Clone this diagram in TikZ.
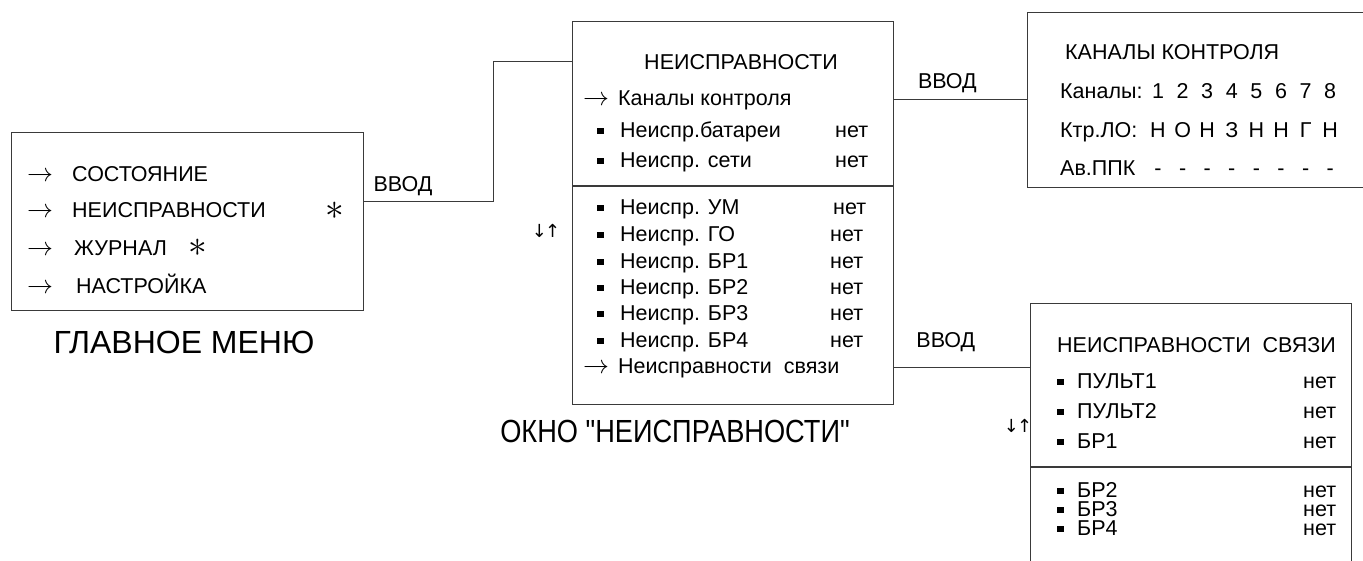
\documentclass[tikz,border=0pt]{standalone}
\usepackage{fontspec}
\setmainfont{Liberation Sans}[Ligatures=TeXOff]
\newfontfamily\arrfont{DejaVu Sans}
\usetikzlibrary{positioning}
\definecolor{scline}{HTML}{3A3A3A}
\newcommand{\arr}{\scalebox{1.25}{$\rightarrow$}}
\newcommand{\pre}[1]{\makebox[#1][l]{\arr}}
\newcommand{\bul}[1]{\makebox[#1][l]{\rule[0.12em]{0.31em}{0.31em}}}
\tikzset{
  win/.style={draw=scline,line width=1.3pt,anchor=north west,inner sep=0pt},
  row/.style={anchor=base west,inner sep=0pt,font=\fontsize{21.5}{24}\selectfont},
  cell/.style={anchor=base,inner sep=0pt,font=\fontsize{21.5}{24}\selectfont},
  star/.style={inner sep=0pt,font=\fontsize{21.5}{24}\selectfont},
  bigcap/.style={anchor=base,inner sep=0pt,font=\fontsize{32}{36}\selectfont},
  updn/.style={inner sep=0pt,font=\fontsize{18}{20}\arrfont},
  wire/.style={draw=scline,line width=1.3pt},
  lab/.style={inner sep=0pt,font=\fontsize{21.5}{24}\selectfont},
}

\begin{document}
\begin{tikzpicture}[x=1pt,y=-1pt]
  \useasboundingbox (0,0) rectangle (1363,560);
  % windows
  \node[win,minimum width=352,minimum height=178] (menu) at (11,132) {};
  \node[win,minimum width=321,minimum height=383] (flt) at (572,21) {};
  \node[win,minimum width=380,minimum height=175] (kan) at (1027,12) {};
  \node[win,minimum width=321,minimum height=280] (svz) at (1030,303) {};
  \draw[wire] (flt.west |- 0,186) -- (flt.east |- 0,186);
  \draw[wire] (svz.west |- 0,467) -- (svz.east |- 0,467);

  % main menu
  \node[row] (m1) at (27,181) {\pre{45pt}СОСТОЯНИЕ};
  \node[row] (m2) at (27,217) {\pre{45pt}НЕИСПРАВНОСТИ};
  \node[row] (m3) at (27,255) {\pre{47pt}ЖУРНАЛ};
  \node[row] (m4) at (27,293) {\pre{49pt}НАСТРОЙКА};
  \node[star] (s1) at (335,211) {\scalebox{1.8}{$\ast$}};
  \node[star] (s2) at (198,248) {\scalebox{1.8}{$\ast$}};
  \node[bigcap] (cm) at (184,353) {ГЛАВНОЕ МЕНЮ};

  % fault window
  \node[cell] (f0) at (741,69) {НЕИСПРАВНОСТИ};
  \node[row] (f1) at (583,105) {\pre{35pt}Каналы контроля};
  \node[row] (f2) at (597,137) {\bul{23pt}Неиспр.батареи};
  \node[row] (f3) at (597,167) {\bul{23pt}Неиспр. сети};
  \node[row] (n2) at (835,137) {нет};
  \node[row] (n3) at (835,167) {нет};
  \foreach \t/\y/\x [count=\i from 4] in {{Неиспр. УМ}/214/833,{Неиспр. ГО}/241/830,
      {Неиспр. БР1}/268/830,{Неиспр. БР2}/294/830,{Неиспр. БР3}/320/830,{Неиспр. БР4}/347/830}{
    \node[row] (f\i) at (597,\y) {\bul{23pt}\t};
    \node[row] (n\i) at (\x,\y) {нет};
  }
  \node[row] (f10) at (583,373) {\pre{35pt}Неисправности\ \ связи};
  \node[updn] (ud1) at (546,231) {↓\kern-2pt↑};
  \node[bigcap] (cf) at (675,442) {\scalebox{0.85}[1]{ОКНО "НЕИСПРАВНОСТИ"}};

  % control channels
  \node[row] (k0) at (1065,59) {КАНАЛЫ КОНТРОЛЯ};
  \node[row] (k1) at (1060,98) {Каналы:};
  \node[row] (k2) at (1060,137) {Ктр.ЛО:};
  \node[row] (k3) at (1060,175) {Ав.ППК};
  \foreach \c/\l [count=\i from 0] in {1/Н,2/О,3/Н,4/З,5/Н,6/Н,7/Г,8/Н}{
    \node[cell] (kc\i) at (1158+24.6*\i,98) {\c};
    \node[cell] (kl\i) at (1158+24.6*\i,137) {\l};
    \node[cell] (kd\i) at (1158+24.6*\i,175) {-};
  }

  % link faults
  \node[row] (v0) at (1057,352) {НЕИСПРАВНОСТИ\ \ СВЯЗИ};
  \foreach \t/\y [count=\i] in {ПУЛЬТ1/388,ПУЛЬТ2/418,БР1/448,БР2/497,БР3/516,БР4/535}{
    \node[row] (v\i) at (1057,\y) {\bul{20pt}\t};
    \node[row] (w\i) at (1303,\y) {нет};
  }
  \node[updn] (ud2) at (1018,426) {↓\kern-2pt↑};

  % connectors
  \draw[wire] (menu.east |- m2.north) -- node[lab,above=5pt,pos=0.3]{ВВОД} ++(129,0) |- (flt.west |- f0);
  \draw[wire] (flt.east |- f1) -- node[lab,above=6pt,pos=0.4]{ВВОД} (kan.west |- f1);
  \draw[wire] (flt.east |- f10) -- node[lab,above=15pt,pos=0.38]{ВВОД} (svz.west |- f10);
\end{tikzpicture}
\end{document}
